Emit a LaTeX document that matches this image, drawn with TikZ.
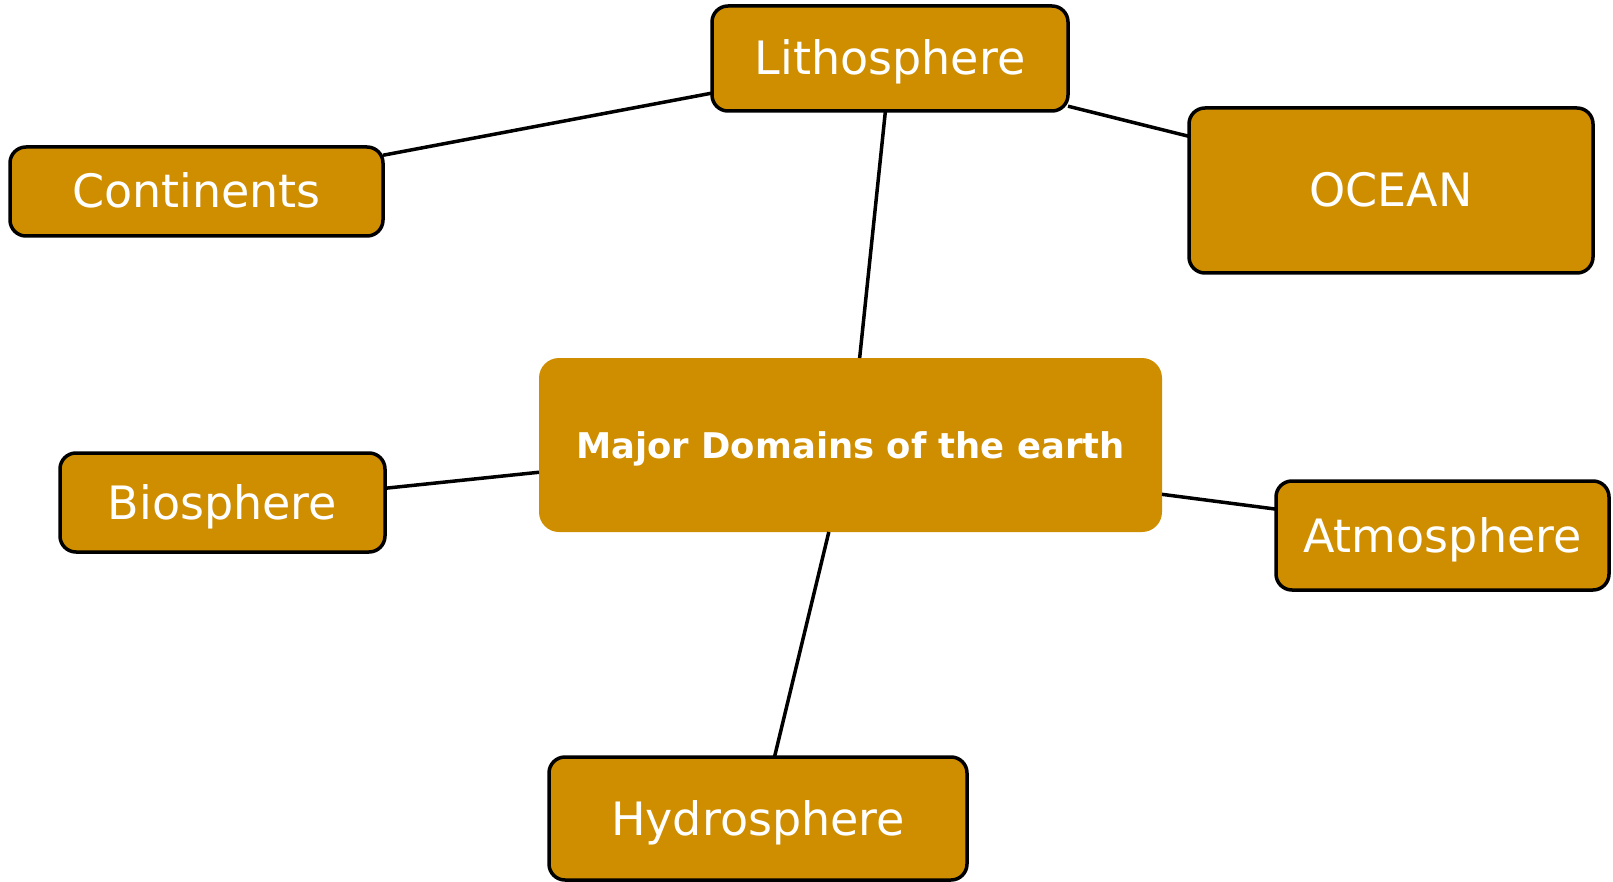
\documentclass[tikz,border=0pt]{standalone}
\usepackage{fontspec}
\setmainfont{DejaVu Sans}
\definecolor{gold}{RGB}{207,142,0}
\begin{document}
\begin{tikzpicture}[x=1pt,y=-1pt,
  leaf/.style={draw=black, line width=3.5pt, fill=gold, rounded corners=16pt,
    text=white, inner sep=0pt, outer sep=0pt, text height=33pt, text depth=0pt,
    font=\fontsize{46}{50}\selectfont},
  hub/.style={fill=gold, rounded corners=20pt, text=white, inner sep=0pt, outer sep=0pt,
    text height=26pt, text depth=0pt, font=\fontsize{35.4}{40}\selectfont\bfseries},
  link/.style={draw=black, line width=3.5pt}]
\useasboundingbox (0,0) rectangle (1613,882);
\node[hub, minimum width=623pt, minimum height=174pt] (main) at (850.5,445) {Major Domains of the earth};
\node[leaf, minimum width=356pt, minimum height=105pt] (litho) at (890,58.5) {Lithosphere};
\node[leaf, minimum width=373pt, minimum height=89pt] (cont) at (196.5,191.5) {Continents};
\node[leaf, minimum width=404pt, minimum height=165pt] (ocean) at (1391,190.5) {OCEAN};
\node[leaf, minimum width=325pt, minimum height=99pt] (bio) at (222.5,502.5) {Biosphere};
\node[leaf, minimum width=333pt, minimum height=109pt] (atmo) at (1442.5,535.5) {Atmosphere};
\node[leaf, minimum width=418pt, minimum height=123pt] (hydro) at (758,818.5) {Hydrosphere};
\draw[link] (litho.191) -- (cont.11);
\draw[link] (litho.345) -- (ocean.165);
\draw[link] (litho.265) -- (main.84);
\draw[link] (main.185) -- (bio.5);
\draw[link] (main.351) -- (atmo.171);
\draw[link] (main.256) -- (hydro.75);
\end{tikzpicture}
\end{document}
